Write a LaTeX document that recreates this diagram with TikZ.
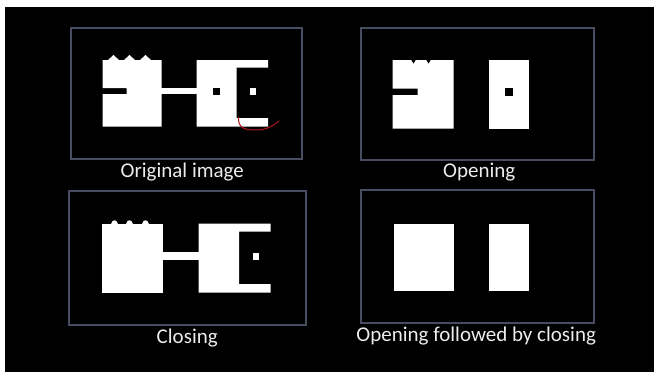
\documentclass[tikz,border=0pt]{standalone}
\usepackage{fontspec}
\setmainfont{Carlito}
\usetikzlibrary{positioning}
\definecolor{slide}{RGB}{0,0,0}
\definecolor{framegrey}{RGB}{72, 76, 96}
\definecolor{captiontext}{RGB}{236, 236, 236}
\definecolor{penred}{RGB}{175, 22, 22}

\begin{document}
\begin{tikzpicture}[
      x=1pt, y=-1pt,
      panel/.style={draw=framegrey, line width=1.5pt, inner sep=0pt, anchor=north west},
      caption/.style={text=captiontext, font=\fontsize{21}{24}\selectfont, inner sep=0pt},
      blob/.style={fill=white},
      hole/.style={fill=slide}
    ]
      \useasboundingbox (0,0) rectangle (654,372);
      \fill[white] (0,0) rectangle (654,372);
      \fill[slide] (5,7) rectangle (654,372);

      % Panels
      \node[panel, minimum width=231pt, minimum height=131pt] (orig) at (70,27) {};
      \node[panel, minimum width=233pt, minimum height=132pt] (open) at (360,27) {};
      \node[panel, minimum width=237pt, minimum height=134pt] (close) at (68,190) {};
      \node[panel, minimum width=233pt, minimum height=133pt] (openclose) at (360,189) {};

      % Captions
      \node[caption, below=3pt of orig, xshift=-4pt] (origlbl) {Original image};
      \node[caption, below=2pt of open, xshift=2pt] (openlbl) {Opening};
      \node[caption, below=3pt of close] (closelbl) {Closing};
      \node[caption, below=3.5pt of openclose, xshift=-1pt] (openclosellbl) {Opening followed by closing};

      % Original image
      \fill[blob] (102.5,60) -| (161.5,126.5) -| (102.5,94) -- (126.5,94) -- (126.5,88) -- (102.5,88) -- cycle;
      \foreach \px in {113.5, 129.5, 145.5}
        \fill[blob] ({\px-6},60.5) -- (\px,55) -- ({\px+6},60.5) -- cycle;
      \fill[blob] (161,88) rectangle (197,94);
      \fill[blob] (196.5,60) -- (268,60) -- (268,67.5) -- (236.5,67.5) -- (236.5,118)
        -- (268,118) -- (268,126.5) -- (196.5,126.5) -- cycle;
      \fill[hole] (212.5,88) rectangle (219.5,94.5);
      \fill[blob] (249.5,88) rectangle (256,94.5);
      \draw[penred, line width=1pt] (238.5,117) .. controls (238,127) and (243,130) .. (255,130)
        .. controls (267,130) and (273,126) .. (279,121);

      % Opening
      \fill[blob] (392.5,60) -| (453.5,128.5) -| (392.5,95) -- (417.5,95) -- (417.5,88.5) -- (392.5,88.5) -- cycle;
      \foreach \px in {413.5, 428.5}
        \fill[hole] ({\px-2.5},59.5) -- (\px,63.5) -- ({\px+2.5},59.5) -- cycle;
      \fill[blob] (488.5,60) rectangle (529,128.5);
      \fill[hole] (504.5,88) rectangle (512.5,95.5);

      % Closing
      \fill[blob] (101.5,223.5) rectangle (162.5,292.5);
      \foreach \px in {114.5, 129.5, 145.5}
        \fill[blob] ({\px-3.5},224) .. controls ({\px-2},219) and ({\px+2},219) .. ({\px+3.5},224) -- cycle;
      \fill[blob] (162,252) rectangle (198.5,260);
      \fill[blob] (198.5,223.5) -- (270.5,223.5) -- (270.5,231.5) -- (239,231.5) -- (239,284)
        -- (270.5,284) -- (270.5,292.5) -- (198.5,292.5) -- cycle;
      \fill[blob] (252.5,252.5) rectangle (259,259.5);

      % Opening followed by closing
      \fill[blob] (393.5,223.5) rectangle (453.5,291);
      \fill[blob] (488.5,223.5) rectangle (529,291);
    \end{tikzpicture}
\end{document}
